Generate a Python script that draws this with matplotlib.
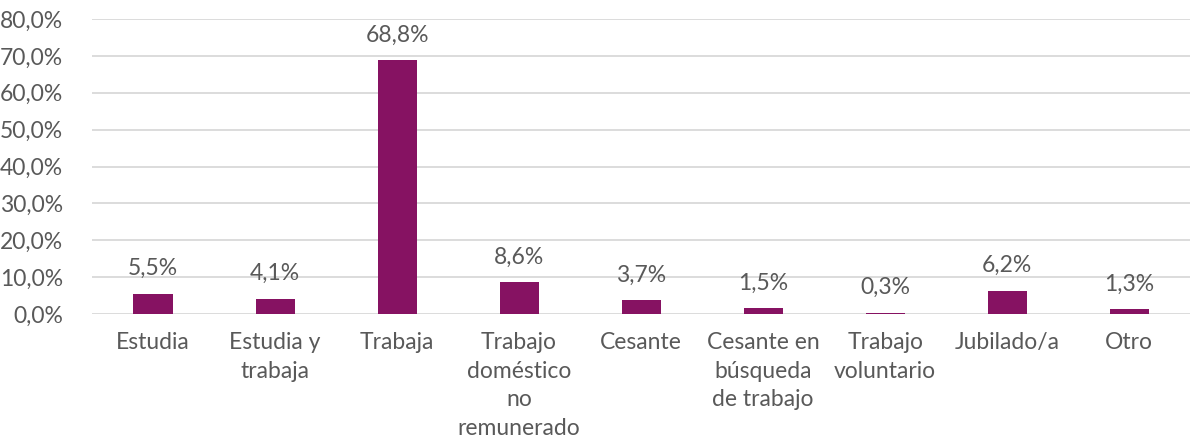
import matplotlib.pyplot as plt
import numpy as np

categories = ['Estudia', 'Estudia y\ntrabaja', 'Trabaja', 'Trabajo\ndoméstico\nno\nremunerado',
              'Cesante', 'Cesante en\nbúsqueda\nde trabajo', 'Trabajo\nvoluntario', 'Jubilado/a', 'Otro']
values = [5.5, 4.1, 68.8, 8.6, 3.7, 1.5, 0.3, 6.2, 1.3]
yticks = [0, 10, 20, 30, 40, 50, 60, 70, 80]

bar_color = '#861262'
text_color = '#595959'
grid_color = '#d9d9d9'

plt.rcParams['font.family'] = ['Lato', 'DejaVu Sans']

fig = plt.figure(figsize=(12.01, 4.44), dpi=100)
ax = fig.add_axes([0.0766, 0.293, 0.9144, 0.664])

x = np.arange(len(categories))
ax.bar(x, values, width=0.32, color=bar_color, zorder=3)

for xi, v in zip(x, values):
    ax.text(xi, v + 4.0, '{:.1f}%'.format(v).replace('.', ','), ha='center', va='bottom',
            fontsize=16.5, color=text_color)

ax.set_xlim(-0.5, len(categories) - 0.5)
ax.set_ylim(0, 80)
ax.set_yticks(yticks)
ax.set_yticklabels(['{:.1f}%'.format(t).replace('.', ',') for t in yticks], fontsize=16.5, color=text_color)
ax.set_xticks(x)
ax.set_xticklabels(categories, fontsize=16.5, color=text_color, linespacing=1.45, va='top')
ax.tick_params(axis='both', length=0)
ax.tick_params(axis='x', pad=13)
ax.tick_params(axis='y', pad=21)
ax.yaxis.grid(True, color=grid_color, linewidth=1.3, zorder=0)
for s in ax.spines.values():
    s.set_visible(False)

fig.savefig('out.png', dpi=100)
